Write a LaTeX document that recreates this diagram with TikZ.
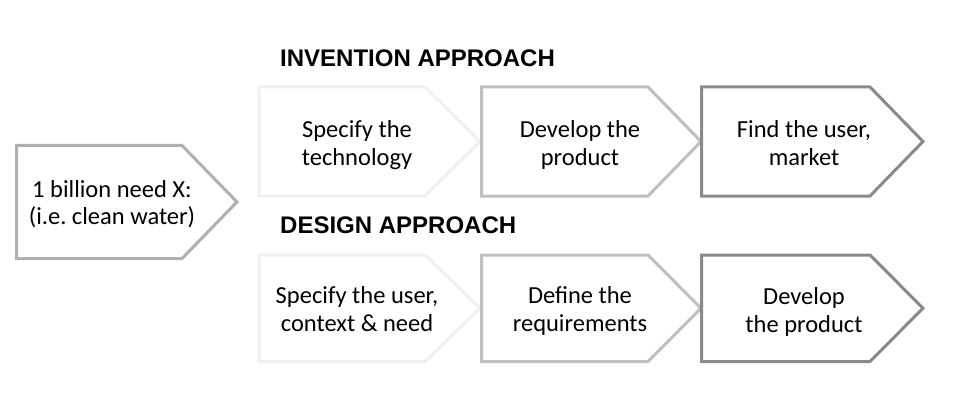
\documentclass[tikz,border=0pt]{standalone}
\usepackage{fontspec}
\setmainfont{Carlito}
\newfontfamily\titlefont{Liberation Sans}
\definecolor{cA}{HTML}{F0F0F0}
\definecolor{cB}{HTML}{BFBFBF}
\definecolor{cC}{HTML}{8A8A8A}
\definecolor{cL}{HTML}{B0B0B0}
\begin{document}
\begin{tikzpicture}[x=1pt,y=-1pt,
  chev/.style={line width=3pt,line join=miter,fill=white},
  lbl/.style={inner sep=0pt,anchor=base,font=\fontsize{24.5}{28}\selectfont},
  lblL/.style={inner sep=0pt,anchor=base,font=\fontsize{24.5}{27}\selectfont},
  ttl/.style={inner sep=0pt,anchor=base west,font=\titlefont\bfseries\fontsize{24}{28}\selectfont}]
\useasboundingbox[fill=white] (0,0) rectangle (960,414);
\frenchspacing
\newcommand{\chevron}[6]{\draw[chev,draw=#6] (#1,#4) -- (#2,#4) -- (#3,{(#4+#5)/2}) -- (#2,#5) -- (#1,#5) -- cycle;}
% left box
\chevron{16.5}{182}{237}{145.5}{258.5}{cL}
\node[lblL] (need) at (112,197.5) {\begin{tabular}[t]{@{}c@{}}1 billion need X:\\(i.e. clean water)\end{tabular}};
% titles
\node[ttl] (inv) at (280,67) {INVENTION APPROACH};
\node[ttl] (des) at (280,233) {DESIGN APPROACH};
% top row
\chevron{259}{425}{480}{87}{196}{cA}
\chevron{481.5}{648}{701}{87}{196}{cB}
\chevron{701.5}{870}{923}{87}{196}{cC}
\node[lbl] (t1) at (357,138) {\begin{tabular}[t]{@{}c@{}}Specify the\\technology\end{tabular}};
\node[lbl] (t2) at (580,138) {\begin{tabular}[t]{@{}c@{}}Develop the\\product\end{tabular}};
\node[lbl] (t3) at (804,138) {\begin{tabular}[t]{@{}c@{}}Find the user,\\market\end{tabular}};
% bottom row
\chevron{259}{425}{480}{255}{361.5}{cA}
\chevron{481.5}{648}{701}{255}{361.5}{cB}
\chevron{701.5}{870}{923}{255}{361.5}{cC}
\node[lbl] (b1) at (357,303.5) {\begin{tabular}[t]{@{}c@{}}Specify the user,\\context \& need\end{tabular}};
\node[lbl] (b2) at (580,303.5) {\begin{tabular}[t]{@{}c@{}}Define the\\requirements\end{tabular}};
\node[lbl] (b3) at (804,304.5) {\begin{tabular}[t]{@{}c@{}}Develop\\the product\end{tabular}};
\end{tikzpicture}
\end{document}
